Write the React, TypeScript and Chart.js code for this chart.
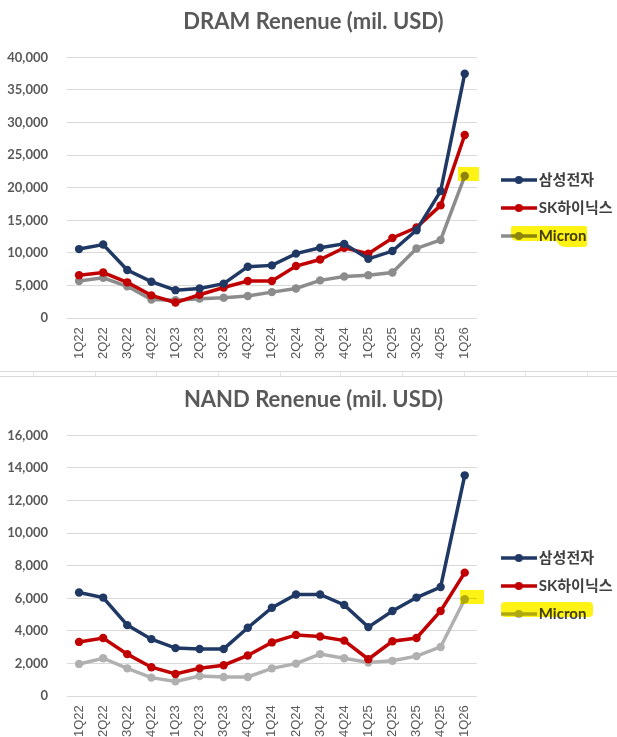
import React, { useEffect, useRef } from "react";
import { Chart, registerables } from "chart.js";

Chart.register(...registerables);

const quarters = [
  "1Q22", "2Q22", "3Q22", "4Q22", "1Q23", "2Q23", "3Q23", "4Q23",
  "1Q24", "2Q24", "3Q24", "4Q24", "1Q25", "2Q25", "3Q25", "4Q25", "1Q26",
];
const seriesNames = ["삼성전자", "SK하이닉스", "Micron"];

const dramSamsung = [10600, 11300, 7400, 5600, 4300, 4550, 5300, 7900, 8100, 9900, 10800, 11400, 9100, 10300, 13500, 19500, 37500];
const dramSK = [6600, 7000, 5500, 3500, 2400, 3600, 4700, 5700, 5700, 8000, 9000, 10800, 9900, 12300, 13900, 17300, 28100];
const dramMicron = [5700, 6200, 4900, 2850, 2750, 3000, 3150, 3400, 4000, 4550, 5800, 6400, 6600, 7000, 10700, 12000, 21800];

const nandSamsung = [6360, 6050, 4360, 3500, 2950, 2900, 2900, 4200, 5430, 6240, 6240, 5600, 4240, 5230, 6050, 6700, 13550];
const nandSK = [3330, 3570, 2580, 1780, 1360, 1710, 1900, 2500, 3300, 3760, 3660, 3410, 2270, 3370, 3570, 5230, 7580];
const nandMicron = [1980, 2330, 1710, 1140, 910, 1240, 1180, 1180, 1710, 2000, 2580, 2330, 2070, 2170, 2460, 3020, 5950];

const dramTitle = "DRAM Renenue (mil. USD)";
const nandTitle = "NAND Renenue (mil. USD)";

const SAMSUNG = "#203864";
const SK = "#C00000";
const MICRON_DARK = "#8C8C8C";
const MICRON_LIGHT = "#B0B0B0";
const TEXT = "#595959";

function legendIcon(color: string) {
  const c = document.createElement("canvas");
  c.width = 36;
  c.height = 10;
  const g = c.getContext("2d")!;
  g.strokeStyle = color;
  g.lineWidth = 3.5;
  g.beginPath();
  g.moveTo(0, 5);
  g.lineTo(36, 5);
  g.stroke();
  g.fillStyle = color;
  g.beginPath();
  g.arc(18, 5, 4, 0, Math.PI * 2);
  g.fill();
  return c;
}

// nudges the legend and title boxes after Chart.js has laid them out
const nudgePlugin = {
  id: "nudge",
  afterLayout(chart: any) {
    const lg = chart.legend;
    if (lg) {
      lg.left += 16.5;
      lg.right += 16.5;
      lg.top += 24;
      lg.bottom += 24;
    }
    const t = chart.titleBlock;
    if (t) {
      t.left += 10.5;
      t.right += 10.5;
    }
  },
};

type Props = {
  title: string;
  values: number[][];
  colors: string[];
  yMax: number;
  yStep: number;
};

function LineChart({ title, values, colors, yMax, yStep }: Props) {
  const ref = useRef<HTMLCanvasElement>(null);
  useEffect(() => {
    let chart: Chart | null = null;
    let cancelled = false;
    const make = () => {
      if (cancelled || !ref.current) return;
      const icons = colors.map(legendIcon);
      chart = new Chart(ref.current, {
        type: "line",
        data: {
          labels: quarters,
          datasets: values.map((v, i) => ({
            label: seriesNames[i],
            data: v,
            borderColor: colors[i],
            backgroundColor: colors[i],
            pointBackgroundColor: colors[i],
            pointBorderWidth: 0,
            pointRadius: 4.2,
            borderWidth: 3.5,
            tension: 0,
          })),
        },
        plugins: [nudgePlugin],
        options: {
          animation: false,
          responsive: true,
          maintainAspectRatio: false,
          layout: { padding: { left: 0, right: 11, top: 0, bottom: 0 } },
          plugins: {
            tooltip: { enabled: false },
            title: {
              display: true,
              text: title,
              color: TEXT,
              font: { family: "Lato", size: 22, weight: "bold" },
              padding: { top: 9, bottom: 22 },
            },
            legend: {
              position: "right",
              align: "center",
              labels: {
                usePointStyle: true,
                pointStyleWidth: 25,
                boxHeight: 10,
                padding: 13,
                color: "#404040",
                font: { family: "Lato, 'Noto Sans CJK KR'", size: 15, weight: "bold" },
                generateLabels: (c: Chart) =>
                  Chart.defaults.plugins.legend.labels
                    .generateLabels(c)
                    .map((l: any, i: number) => ({ ...l, pointStyle: icons[i] })),
              },
            },
          },
          scales: {
            x: {
              offset: true,
              grid: { display: false, drawTicks: false },
              border: { display: false },
              ticks: {
                autoSkip: false,
                minRotation: 90,
                maxRotation: 90,
                padding: 9,
                color: TEXT,
                font: { family: "'Liberation Sans', Arial", size: 13 },
              },
            },
            y: {
              min: 0,
              max: yMax,
              grid: { color: "#D9D9D9", drawTicks: false, lineWidth: 1 },
              border: { display: false },
              afterFit: (s: any) => {
                s.width = 67;
              },
              ticks: {
                stepSize: yStep,
                padding: 19,
                color: TEXT,
                font: { family: "Lato", size: 13, weight: "bold" },
                callback: (v: any) => Number(v).toLocaleString("en-US"),
              },
            },
          },
        },
      } as any);
    };
    const fonts: any = (document as any).fonts;
    if (fonts && fonts.load) {
      Promise.all([
        fonts.load("bold 22px Lato"),
        fonts.load("bold 13px Lato"),
        fonts.load("13px 'Liberation Sans'"),
        fonts.load("bold 15px 'Noto Sans CJK KR'", "삼성전자"),
      ]).then(make, make);
    } else make();
    return () => {
      cancelled = true;
      if (chart) chart.destroy();
    };
  }, []);
  return <canvas ref={ref} />;
}

const hl: React.CSSProperties = {
  position: "absolute",
  background: "#FFF200",
  mixBlendMode: "multiply",
  opacity: 0.92,
  pointerEvents: "none",
};

const sepTicks = [33, 95, 156, 218, 280, 340, 402, 464, 525, 587];

export default function App() {
  useEffect(() => {
    document.body.style.margin = "0";
    document.body.style.background = "#ffffff";
  }, []);
  return (
    <div style={{ position: "relative", width: 617, height: 737, overflow: "hidden", background: "#fff" }}>
      <div style={{ position: "absolute", left: 0, top: 0, width: 617, height: 368 }}>
        <LineChart
          title={dramTitle}
          values={[dramSamsung, dramSK, dramMicron]}
          colors={[SAMSUNG, SK, MICRON_DARK]}
          yMax={40000}
          yStep={5000}
        />
      </div>
      <div style={{ position: "absolute", left: 0, top: 378, width: 617, height: 368 }}>
        <LineChart
          title={nandTitle}
          values={[nandSamsung, nandSK, nandMicron]}
          colors={[SAMSUNG, SK, MICRON_LIGHT]}
          yMax={16000}
          yStep={2000}
        />
      </div>
      {/* worksheet cell borders between the two charts */}
      <div style={{ position: "absolute", left: 0, top: 371, width: 617, height: 1, background: "#D9D9D9" }} />
      <div style={{ position: "absolute", left: 0, top: 376, width: 617, height: 1, background: "#D9D9D9" }} />
      {sepTicks.map((x) => (
        <div key={x} style={{ position: "absolute", left: x, top: 371, width: 1, height: 5, background: "#E3E3E3" }} />
      ))}
      {/* highlighter marks */}
      <div style={{ ...hl, left: 458, top: 167, width: 21, height: 14 }} />
      <div style={{ ...hl, left: 511, top: 226, width: 76, height: 15, borderRadius: "2px 2px 0 6px" }} />
      <div style={{ ...hl, left: 556, top: 238, width: 31, height: 9, borderRadius: "0 0 3px 10px" }} />
      <div style={{ ...hl, left: 460, top: 590, width: 24, height: 14 }} />
      <div style={{ ...hl, left: 501, top: 602, width: 92, height: 15, borderRadius: 4 }} />
    </div>
  );
}
